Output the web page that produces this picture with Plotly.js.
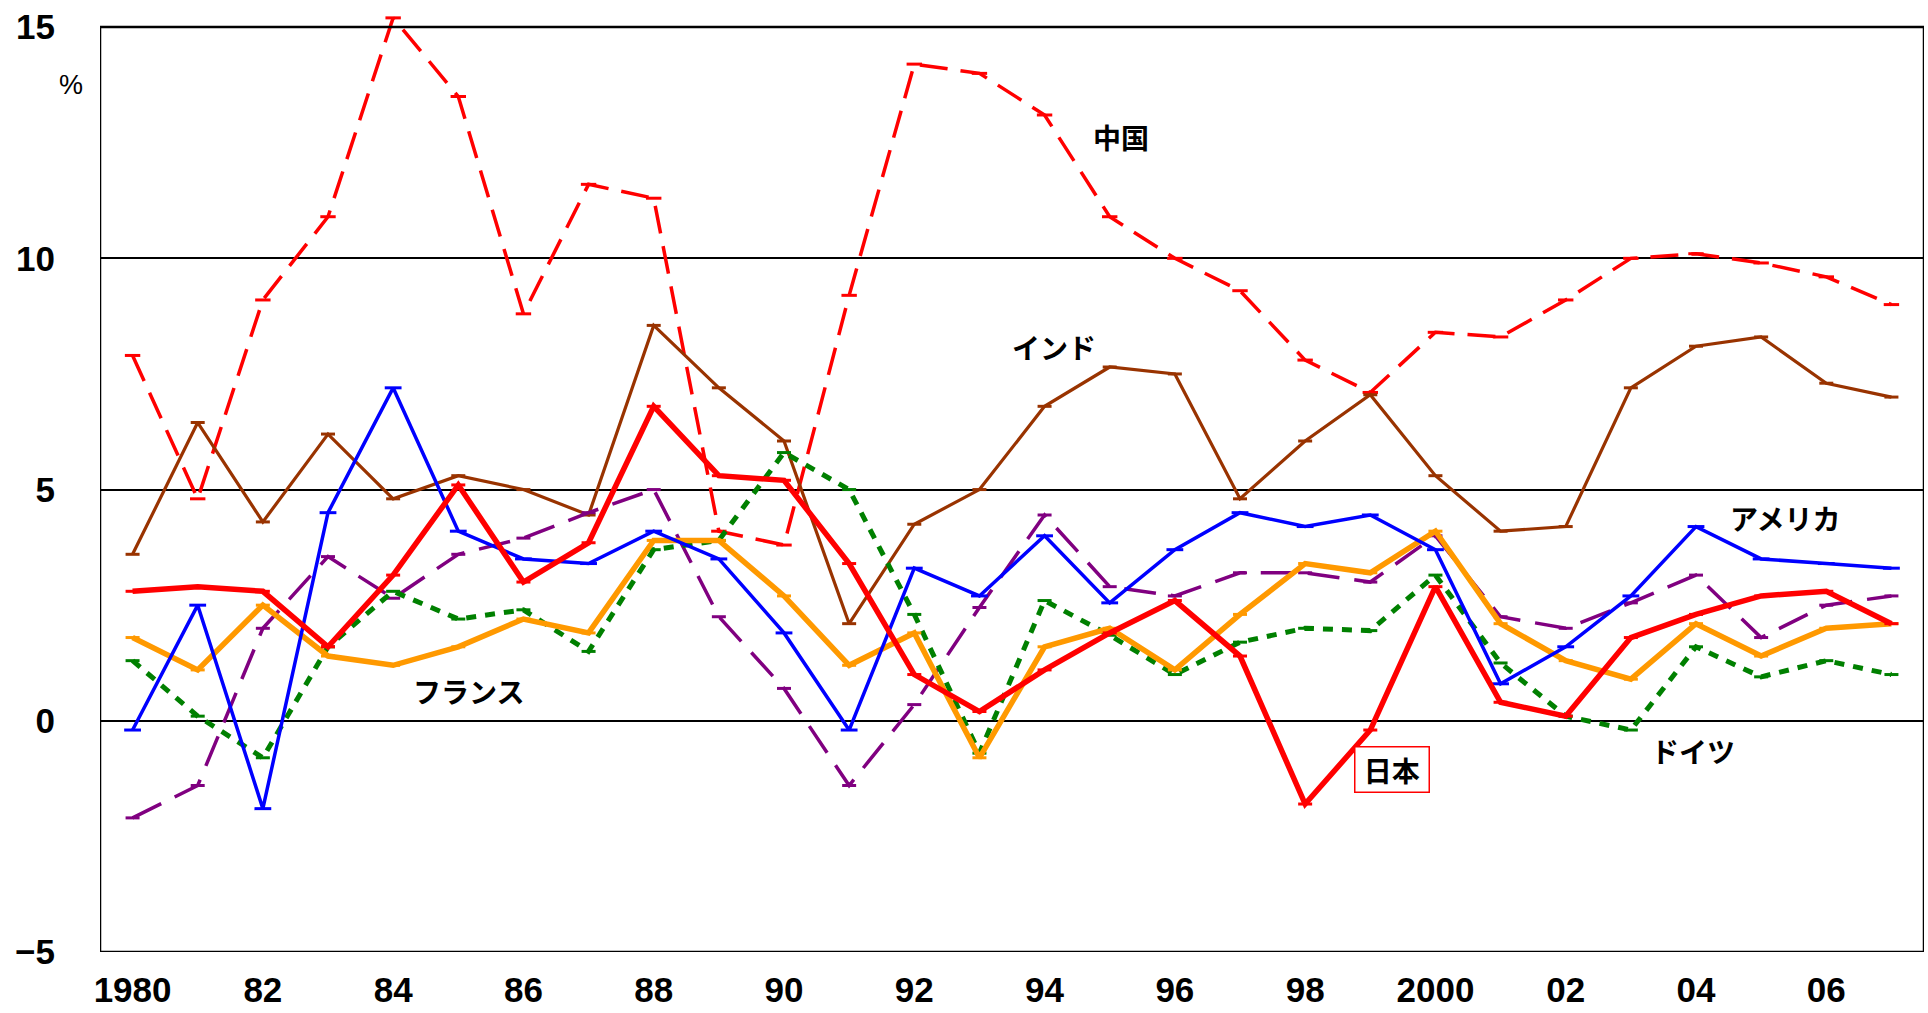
<!DOCTYPE html>
<html>
<head>
<meta charset="utf-8">
<script src="https://cdn.plot.ly/plotly-3.0.1.min.js"></script>
<style>html,body{margin:0;padding:0;background:#fff;}#chart{width:1928px;height:1013px;}</style>
</head>
<body>
<div id="chart"></div>
<script>
const years = [1980,1981,1982,1983,1984,1985,1986,1987,1988,1989,1990,1991,1992,1993,1994,1995,1996,1997,1998,1999,2000,2001,2002,2003,2004,2005,2006,2007];
const tickYears = [1980,1982,1984,1986,1988,1990,1992,1994,1996,1998,2000,2002,2004,2006];
const tickLabels = ["1980","82","84","86","88","90","92","94","96","98","2000","02","04","06"];
const yTicks = [-5,0,5,10,15];

const china   = [7.9,4.8,9.1,10.9,15.2,13.5,8.8,11.6,11.3,4.1,3.8,9.2,14.2,14.0,13.1,10.9,10.0,9.3,7.8,7.1,8.4,8.3,9.1,10.0,10.1,9.9,9.6,9.0];
const india   = [3.6,6.45,4.3,6.2,4.8,5.3,5.0,4.45,8.55,7.2,6.05,2.1,4.25,5.0,6.8,7.65,7.5,4.8,6.05,7.05,5.3,4.1,4.2,7.2,8.1,8.3,7.3,7.0];
const uk      = [-2.1,-1.4,2.0,3.55,2.65,3.6,3.95,4.5,5.0,2.25,0.7,-1.4,0.35,2.45,4.45,2.9,2.7,3.2,3.2,3.0,4.0,2.25,2.0,2.55,3.15,1.8,2.5,2.7];
const germany = [1.3,0.1,-0.8,1.6,2.8,2.2,2.4,1.5,3.7,3.9,5.8,5.0,2.3,-0.7,2.6,1.85,1.0,1.7,2.0,1.95,3.15,1.25,0.1,-0.2,1.6,0.95,1.3,1.0];
const france  = [1.8,1.1,2.5,1.4,1.2,1.6,2.2,1.9,3.9,3.9,2.7,1.2,1.9,-0.8,1.6,2.0,1.1,2.3,3.4,3.2,4.1,2.1,1.3,0.9,2.1,1.4,2.0,2.1];
const usa     = [-0.2,2.5,-1.9,4.5,7.2,4.1,3.5,3.4,4.1,3.5,1.9,-0.2,3.3,2.7,4.0,2.55,3.7,4.5,4.2,4.45,3.7,0.8,1.6,2.7,4.2,3.5,3.4,3.3];
const japan   = [2.8,2.9,2.8,1.6,3.15,5.1,3.0,3.85,6.8,5.3,5.2,3.4,1.0,0.2,1.1,1.9,2.6,1.4,-1.8,-0.2,2.9,0.4,0.1,1.8,2.3,2.7,2.8,2.1];

function tr(name, y, color, width, dash, msize) {
  return {
    type: 'scatter', mode: 'lines+markers', name: name, x: years, y: y,
    line: {color: color, width: width, dash: dash},
    marker: {symbol: 'line-ew', size: msize, color: color, line: {color: color, width: 3}},
    hoverinfo: 'x+y+name'
  };
}

const data = [
  tr('中国', china, '#FF0000', 3.5, '28px,13px', 11),
  tr('インド', india, '#993300', 3.2, 'solid', 10),
  tr('イギリス', uk, '#800080', 3.5, '32px,15px', 10),
  tr('ドイツ', germany, '#008000', 5, '10px,9px', 10),
  tr('フランス', france, '#FF9900', 5.5, 'solid', 10),
  tr('アメリカ', usa, '#0000FF', 3.5, 'solid', 12),
  tr('日本', japan, '#FF0000', 5.5, 'solid', 10)
];

const jp = {family: 'Noto Sans CJK JP, sans-serif', size: 28, color: '#000', weight: 'bold'};
const tickFont = {family: 'Liberation Sans, Arial, sans-serif', size: 35, color: '#000', weight: 'bold'};

const layout = {
  width: 1928, height: 1013,
  margin: {l: 100, r: 4, t: 4, b: 61},
  paper_bgcolor: '#fff', plot_bgcolor: '#fff',
  showlegend: false,
  xaxis: {
    range: [1979.5, 2007.5], tickvals: tickYears, ticktext: tickLabels,
    showgrid: false, zeroline: false, showline: false, ticks: '',
    tickfont: tickFont, ticklabelstandoff: 14
  },
  yaxis: {
    range: [-5, 15.5], tickvals: yTicks, showgrid: true, gridcolor: '#000', gridwidth: 2,
    zeroline: false, showline: false, ticks: '', tickfont: tickFont, ticklabelstandoff: 44
  },
  shapes: [
    {type: 'rect', xref: 'x', yref: 'y', x0: 1979.5, x1: 2007.5, y0: -5, y1: 15,
     line: {color: '#000', width: 2.5}, fillcolor: 'rgba(0,0,0,0)', layer: 'above'}
  ],
  annotations: [
    {xref: 'x', yref: 'y', x: 1995.17, y: 12.62, text: '中国', showarrow: false, font: jp},
    {xref: 'x', yref: 'y', x: 1994.15, y: 8.08, text: 'インド', showarrow: false, font: jp},
    {xref: 'x', yref: 'y', x: 2005.38, y: 4.38, text: 'アメリカ', showarrow: false, font: jp},
    {xref: 'x', yref: 'y', x: 1985.15, y: 0.64, text: 'フランス', showarrow: false, font: jp},
    {xref: 'x', yref: 'y', x: 2003.95, y: -0.65, text: 'ドイツ', showarrow: false, font: jp},
    {xref: 'x', yref: 'y', x: 1999.33, y: -1.06, text: '\u00a0日本\u00a0', showarrow: false, font: jp,
     bordercolor: '#FF0000', borderwidth: 1.5, borderpad: 2, bgcolor: '#fff'},
    {xref: 'paper', yref: 'y', x: (57 - 100) / 1824, y: 13.75, text: '%', showarrow: false,
     font: {family: 'Liberation Sans, Arial, sans-serif', size: 27, color: '#000'}}
  ]
};

Plotly.newPlot('chart', data, layout, {displayModeBar: false, staticPlot: true});
</script>
</body>
</html>
